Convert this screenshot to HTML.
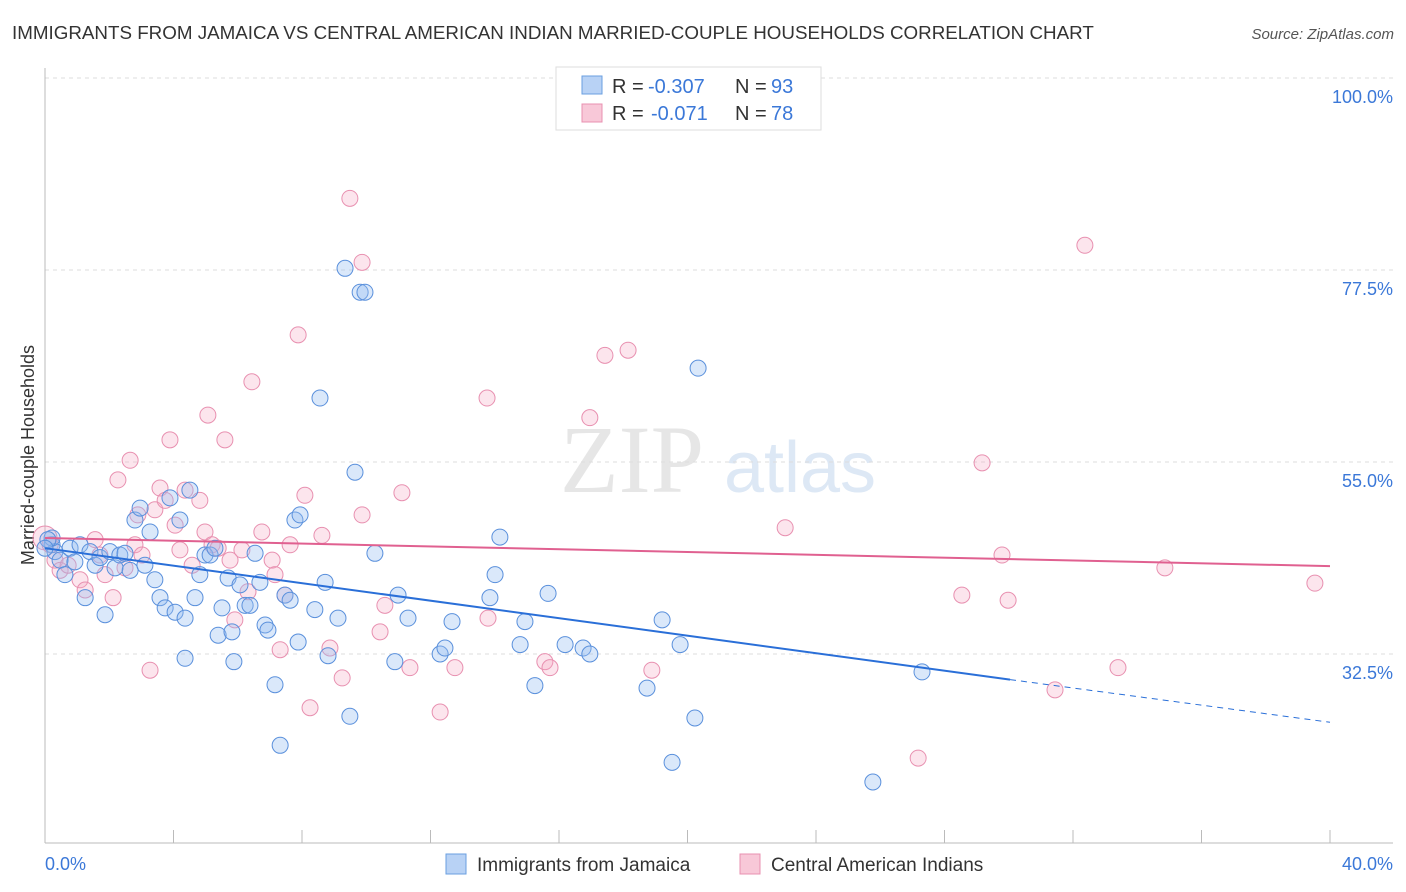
<!DOCTYPE html>
<html><head><meta charset="utf-8"><style>
body{margin:0;background:#fff;font-family:"Liberation Sans",sans-serif;}
#wrap{position:relative;width:1406px;height:892px;overflow:hidden;}
</style></head><body>
<div id="wrap">
<svg id="chart" width="1406" height="892">
<text x="12" y="39" font-size="18.8" fill="#333">IMMIGRANTS FROM JAMAICA VS CENTRAL AMERICAN INDIAN MARRIED-COUPLE HOUSEHOLDS CORRELATION CHART</text>
<text x="1394" y="39" font-size="15" fill="#555" font-style="italic" text-anchor="end">Source: ZipAtlas.com</text>
<text x="632" y="492" font-size="96" fill="#e6e6e6" font-family="Liberation Serif" text-anchor="middle">ZIP</text>
<text x="800" y="492" font-size="72" fill="#dde8f5" text-anchor="middle">atlas</text>
<text transform="translate(34,455) rotate(-90)" font-size="18" fill="#333" text-anchor="middle">Married-couple Households</text>
<g id="grid"></g><g id="pts"></g><g id="lines"></g>
<g>
<rect x="556" y="67" width="265" height="63" fill="#fff" stroke="#ddd"/>
<rect x="582" y="76" width="20" height="18" fill="#b8d2f5" stroke="#6a9fe0"/>
<text x="612" y="93" font-size="20" fill="#333">R =</text>
<text x="648" y="93" font-size="20" fill="#3b78d8">-0.307</text>
<text x="735" y="93" font-size="20" fill="#333">N =</text>
<text x="771" y="93" font-size="20" fill="#3b78d8">93</text>
<rect x="582" y="104" width="20" height="18" fill="#f8c8d8" stroke="#e890b0"/>
<text x="612" y="120" font-size="20" fill="#333">R =</text>
<text x="651" y="120" font-size="20" fill="#3b78d8">-0.071</text>
<text x="735" y="120" font-size="20" fill="#333">N =</text>
<text x="771" y="120" font-size="20" fill="#3b78d8">78</text>
</g>
<g>
<rect x="446" y="854" width="20" height="20" fill="#b8d2f5" stroke="#6a9fe0"/>
<text x="477" y="871" font-size="19" fill="#333">Immigrants from Jamaica</text>
<rect x="740" y="854" width="20" height="20" fill="#f8c8d8" stroke="#e890b0"/>
<text x="771" y="871" font-size="19" fill="#333">Central American Indians</text>
</g>
<text x="45" y="870" font-size="18" fill="#3b78d8">0.0%</text>
<text x="1393" y="870" font-size="18" fill="#3b78d8" text-anchor="end">40.0%</text>
</svg></div>
<script>
const yTicks=[100,77.5,55,32.5];
const yTickLabels=["100.0%","77.5%","55.0%","32.5%"];
const blueX=[0.22,0.31,0.47,0.62,0.78,0.93,1.09,1.25,1.4,1.56,1.71,1.87,2.02,2.18,2.33,2.49,2.65,2.8,2.96,3.11,3.27,3.42,3.58,3.74,3.89,4.05,4.2,4.36,4.36,4.51,4.67,4.82,4.98,5.14,5.29,5.39,5.51,5.7,5.82,5.88,6.07,6.23,6.38,6.54,6.69,6.85,6.94,7.16,7.32,7.47,7.63,7.78,7.88,7.94,8.4,8.56,8.72,8.81,9.12,9.34,9.49,9.65,9.81,9.96,10.27,10.89,10.99,11.3,12.3,12.45,12.67,13.85,14.01,14.16,14.79,14.94,15.25,15.66,16.19,16.75,16.96,18.74,19.21,19.52,19.77,20.23,20.33,25.77,27.3,0.22,0.09,0];
const blueY=[45.3,44.5,43.5,41.8,44.9,43.3,45.3,39.1,44.5,42.9,43.8,37.1,44.5,42.6,44.1,44.3,42.3,48.2,49.6,42.9,46.8,41.2,39.1,37.9,50.8,37.4,48.2,36.7,32.0,51.7,39.1,41.8,44.1,44.1,44.9,34.7,37.9,41.4,35.1,31.6,40.6,38.2,38.2,44.3,40.9,35.9,35.3,28.9,21.8,39.4,38.8,48.2,33.9,48.8,37.7,62.5,40.9,32.3,36.7,77.7,25.2,53.8,74.9,74.9,44.3,31.6,39.4,36.7,32.5,33.2,36.3,39.1,41.8,46.2,33.6,36.3,28.8,39.6,33.6,33.2,32.5,28.5,36.5,19.8,33.6,25.0,66.0,17.5,30.4,46.1,45.9,44.9];
const pinkX=[0,0.16,0.31,0.47,0.72,1.09,1.25,1.56,1.71,1.87,2.12,2.27,2.49,2.65,2.8,2.89,3.02,3.27,3.42,3.58,3.74,3.89,4.05,4.2,4.36,4.58,4.82,4.98,5.07,5.2,5.39,5.6,5.76,5.91,6.13,6.32,6.44,6.75,7.07,7.16,7.32,7.47,7.63,7.88,8.09,8.25,8.62,8.87,9.25,9.49,9.87,9.87,10.43,10.58,11.11,11.36,12.3,12.76,13.76,13.79,15.56,15.72,16.96,17.43,18.15,18.89,23.04,27.18,28.54,29.17,29.79,29.98,31.44,32.37,33.4,34.86,39.53];
const pinkY=[46.1,45.3,43.5,42.3,42.9,41.2,40.0,45.9,44.1,41.8,39.1,52.9,42.6,55.2,45.3,48.8,44.1,30.6,49.4,51.95,50.5,57.6,47.6,44.7,51.7,42.9,50.5,46.8,60.5,45.3,44.9,57.6,43.5,36.5,44.7,39.8,64.4,46.8,43.5,41.8,33.0,39.4,45.3,69.9,51.1,26.2,46.4,33.2,29.7,85.9,48.8,78.4,35.1,38.2,51.4,30.9,25.7,30.9,62.5,36.7,31.6,30.9,60.2,67.5,68.1,30.6,47.3,20.3,39.4,54.9,44.1,38.8,28.3,80.4,30.9,42.6,40.8];
const blueTrend=[44.9,29.5,24.5];
const blueTrendX=[0,30.04,40];
const pinkTrend=[46.1,42.8];
const pinkTrendX=[0,40];
const NS="http://www.w3.org/2000/svg";
const sx=v=>45+v*32.125;
const sy=v=>654-(v-32.5)*8.533;
function mk(tag,attrs,parent){const e=document.createElementNS(NS,tag);for(const k in attrs)e.setAttribute(k,attrs[k]);parent.appendChild(e);return e;}
const grid=document.getElementById('grid');
yTicks.forEach((t,i)=>{
 const l=mk('line',{x1:45,x2:1393,y1:sy(t),y2:sy(t),stroke:'#ddd','stroke-dasharray':'4,4'},grid);
 
 
 const tx=mk('text',{x:1393,y:sy(t)+25,'font-size':18,fill:'#3b78d8','text-anchor':'end'},grid);
 tx.textContent=yTickLabels[i];
 
 
});
const ax=mk('line',{x1:45,x2:45,y1:68,y2:843,stroke:'#bbb'},grid);


const bx=mk('line',{x1:45,x2:1393,y1:843,y2:843,stroke:'#bbb'},grid);


for(let i=0;i<=10;i++){const t=mk('line',{x1:sx(i*4),x2:sx(i*4),y1:830,y2:843,stroke:'#bbb'},grid);
 
 }
const pts=document.getElementById('pts');
pinkX.forEach((x,i)=>{const c=mk('circle',{cx:sx(x),cy:sy(pinkY[i]),r:i==0?12:8,fill:'rgba(244,170,196,0.3)',stroke:'#e890b0','stroke-width':1},pts);
 
 });
blueX.forEach((x,i)=>{const c=mk('circle',{cx:sx(x),cy:sy(blueY[i]),r:8,fill:'rgba(150,190,240,0.35)',stroke:'#5a90dc','stroke-width':1},pts);
 
 });
const lines=document.getElementById('lines');
const b1=mk('line',{x1:sx(blueTrendX[0]),y1:sy(blueTrend[0]),x2:sx(blueTrendX[1]),y2:sy(blueTrend[1]),stroke:'#2a6fd8','stroke-width':2},lines);


const b2=mk('line',{x1:sx(blueTrendX[1]),y1:sy(blueTrend[1]),x2:sx(blueTrendX[2]),y2:sy(blueTrend[2]),stroke:'#2a6fd8','stroke-width':1,'stroke-dasharray':'6,5'},lines);


const p1=mk('line',{x1:sx(pinkTrendX[0]),y1:sy(pinkTrend[0]),x2:sx(pinkTrendX[1]),y2:sy(pinkTrend[1]),stroke:'#e06090','stroke-width':2},lines);


</script>
</body></html>
